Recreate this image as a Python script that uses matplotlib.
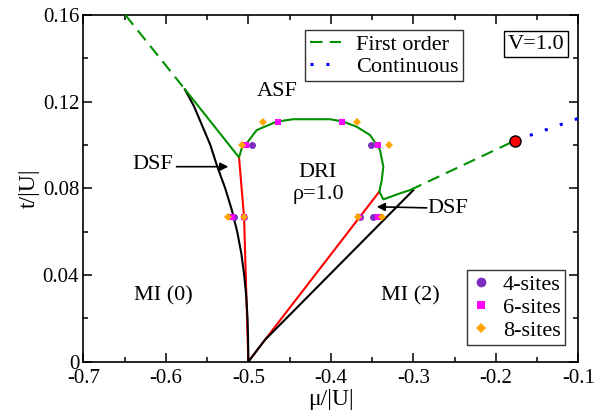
import matplotlib
matplotlib.use("Agg")
import matplotlib.pyplot as plt

plt.rcParams['font.family'] = ['Liberation Serif', 'DejaVu Serif']

# phase boundaries (mu/|U|, t/|U|)
first_left_mu = [-0.649, -0.577]
first_left_t = [0.160, 0.1258]

green_mu = [-0.577, -0.5113, -0.508, -0.502, -0.4898, -0.4656, -0.4455, -0.401,
            -0.3848, -0.3686, -0.3525, -0.3404, -0.3364, -0.3383, -0.3412,
            -0.3364, -0.3161, -0.304]
green_t = [0.1258, 0.0943, 0.0985, 0.1008, 0.1069, 0.1108, 0.1119, 0.1119,
           0.1108, 0.1084, 0.1046, 0.0977, 0.0900, 0.0838, 0.0785,
           0.0749, 0.0777, 0.0792]

red_left_mu = [-0.5113, -0.5052, -0.5]
red_left_t = [0.0943, 0.0669, 0.0]
red_right_mu = [-0.5, -0.48, -0.3412]
red_right_t = [0.0, 0.0100, 0.0785]

black_left_mu = [-0.5767, -0.566, -0.556, -0.546, -0.5376, -0.528, -0.520,
                 -0.5135, -0.5085, -0.505, -0.5025, -0.501, -0.5003, -0.5]
black_left_t = [0.1255, 0.118, 0.109, 0.100, 0.090, 0.080, 0.070,
                0.060, 0.050, 0.040, 0.030, 0.020, 0.010, 0.0]
black_right_mu = [-0.5, -0.48, -0.30]
black_right_t = [0.0, 0.0100, 0.0792]

first_right_mu = [-0.304, -0.177]
first_right_t = [0.0792, 0.1020]
cont_mu = [-0.177, -0.1]
cont_t = [0.1020, 0.1123]
crit_mu = [-0.177]
crit_t = [0.1020]

# cluster results
sites4_mu = [-0.4959, -0.3517, -0.5173, -0.5052, -0.3646, -0.3485]
sites4_t = [0.100, 0.100, 0.0667, 0.0667, 0.0667, 0.0667]
sites6_mu = [-0.4644, -0.3868, -0.5028, -0.3432, -0.5201, -0.5052, -0.3656, -0.3424]
sites6_t = [0.1108, 0.1108, 0.100, 0.100, 0.0667, 0.0667, 0.0667, 0.0667]
sites8_mu = [-0.4818, -0.3686, -0.508, -0.3295, -0.5242, -0.5052, -0.3667, -0.3383]
sites8_t = [0.1108, 0.1108, 0.100, 0.100, 0.0667, 0.0667, 0.0667, 0.0667]

xticks = [-0.7, -0.6, -0.5, -0.4, -0.3, -0.2, -0.1]
xlabels = ["-0.7", "-0.6", "-0.5", "-0.4", "-0.3", "-0.2", "-0.1"]
yticks = [0, 0.04, 0.08, 0.12, 0.16]
ylabels = ["0", "0.04", "0.08", "0.12", "0.16"]

GREEN = "#009000"
fig = plt.figure(figsize=(6.05, 4.18), dpi=100)
ax = fig.add_axes([0.1377, 0.1347, 0.8183, 0.8294])

lw = 1.5
ax.plot(red_left_mu, red_left_t, color="red", lw=lw, zorder=2)
ax.plot(red_right_mu, red_right_t, color="red", lw=lw, zorder=2)
ax.plot(black_left_mu, black_left_t, color="black", lw=lw, zorder=3)
ax.plot(black_right_mu, black_right_t, color="black", lw=lw, zorder=3)
ax.plot(green_mu, green_t, color=GREEN, lw=lw, zorder=3)
ax.plot(first_left_mu, first_left_t, color=GREEN, lw=lw, dashes=(6, 3.5), zorder=3)
fo, = ax.plot(first_right_mu, first_right_t, color=GREEN, lw=lw, dashes=(6, 3.5),
              zorder=3, label="First order")
co, = ax.plot(cont_mu, cont_t, color="blue", lw=2.2, dashes=(1, 4.2),
              zorder=3, label="Continuous")
ax.plot(crit_mu, crit_t, 'o', color="red", mec="black", mew=1.0, ms=8, zorder=5)

s4, = ax.plot(sites4_mu, sites4_t, 'o', color="#7b2cbf", ms=5, mew=0, zorder=4,
              label="4-sites")
s6, = ax.plot(sites6_mu, sites6_t, 's', color="#ff00ff", ms=4.5, mew=0, zorder=4,
              label="6-sites")
s8, = ax.plot(sites8_mu, sites8_t, 'D', color="#ffa500", ms=4, mew=0, zorder=4,
              label="8-sites")

fs = 16
ax.text(-0.4653, 0.1245, "ASF", fontsize=fs, ha="center", va="center")
ax.text(-0.4156, 0.0875, "DRI", fontsize=fs, ha="center", va="center")
ax.text(-0.4156, 0.0773, "ρ=1.0", fontsize=fs, ha="center", va="center")
ax.text(-0.6161, 0.0908, "DSF", fontsize=fs, ha="center", va="center")
ax.text(-0.258, 0.0709, "DSF", fontsize=fs, ha="center", va="center")
ax.text(-0.6034, 0.0303, "MI (0)", fontsize=fs, ha="center", va="center")
ax.text(-0.304, 0.0303, "MI (2)", fontsize=fs, ha="center", va="center")
ax.text(-0.1513, 0.1466, "V=1.0", fontsize=fs, ha="center", va="center",
        bbox=dict(boxstyle="square,pad=0.15", fc="white", ec="black", lw=1.0))

ax.annotate("", xy=(-0.5242, 0.090), xytext=(-0.587, 0.090),
            arrowprops=dict(arrowstyle="-|>", color="black", lw=1.2,
                            mutation_scale=12, shrinkA=0, shrinkB=0))
ax.annotate("", xy=(-0.3444, 0.0715), xytext=(-0.2838, 0.0710),
            arrowprops=dict(arrowstyle="-|>", color="black", lw=1.2,
                            mutation_scale=12, shrinkA=0, shrinkB=0))

leg1 = ax.legend(handles=[fo, co], loc="upper left", bbox_to_anchor=(0.448, 0.957),
                 borderaxespad=0, fontsize=fs, frameon=True, fancybox=False,
                 handlelength=1.4, handletextpad=0.7, labelspacing=0.05,
                 borderpad=0.2)
leg1.get_frame().set_edgecolor("black")
leg1.get_frame().set_linewidth(1.0)
ax.add_artist(leg1)

leg2 = ax.legend(handles=[s4, s6, s8], loc="lower right", bbox_to_anchor=(0.973, 0.048),
                 borderaxespad=0, fontsize=fs, frameon=True, fancybox=False,
                 handlelength=0.8, handletextpad=0.6, labelspacing=0.1,
                 borderpad=0.2, markerscale=1.4)
leg2.get_frame().set_edgecolor("black")
leg2.get_frame().set_linewidth(1.0)

ax.set_xlim(-0.7, -0.1)
ax.set_ylim(0, 0.16)
ax.set_xticks(xticks)
ax.set_xticklabels(xlabels)
ax.set_yticks(yticks)
ax.set_yticklabels(ylabels)
ax.set_xticks([-0.65, -0.55, -0.45, -0.35, -0.25, -0.15], minor=True)
ax.set_yticks([0.02, 0.06, 0.10, 0.14], minor=True)
ax.tick_params(which="both", direction="in", top=True, right=True, labelsize=15, width=1.1)
ax.tick_params(which="major", length=6.5)
ax.tick_params(axis="x", which="major", pad=5)
ax.tick_params(axis="y", which="major", pad=3)
ax.tick_params(which="minor", length=3.6)
for s in ax.spines.values():
    s.set_linewidth(1.2)

ax.set_xlabel("μ/|U|", fontsize=17, labelpad=1)
ax.set_ylabel("t/|U|", fontsize=17, labelpad=2)

fig.savefig("out.png", dpi=100)
